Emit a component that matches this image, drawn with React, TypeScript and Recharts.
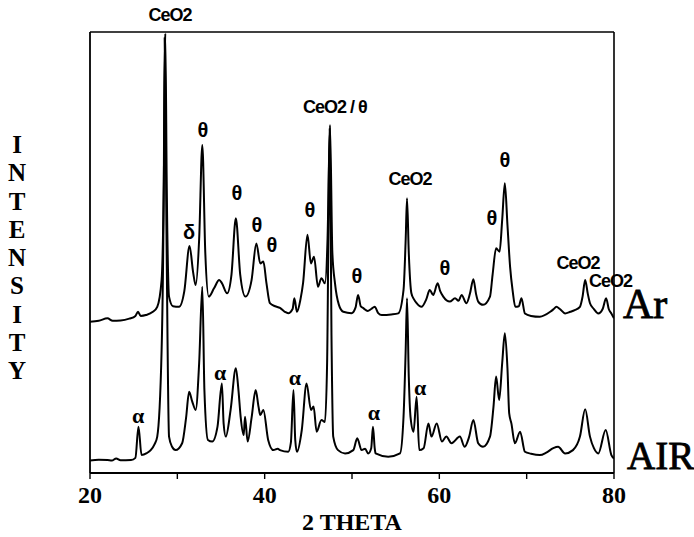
import { LineChart, Line, XAxis, YAxis, ReferenceLine, ReferenceDot } from 'recharts';

// 2-theta positions and intensities (arbitrary units, traces offset)
const arTheta = [
  20.0, 21.0, 22.0, 22.6, 23.5, 24.5, 25.2, 25.5, 25.8, 26.4, 27.2, 27.7, 28.2, 28.45, 28.62, 28.8,
  29.05, 29.5, 30.2, 30.8, 31.4, 31.8, 32.1, 32.5, 32.86, 33.2, 33.6, 34.2, 34.8, 35.1, 35.7, 36.2,
  36.7, 37.2, 37.8, 38.5, 39.05, 39.5, 39.85, 40.2, 40.6, 41.2, 41.75, 42.3, 42.7, 43.2, 43.4, 43.7,
  44.1, 44.4, 44.9, 45.3, 45.65, 46.1, 46.5, 46.9, 47.2, 47.48, 47.75, 48.05, 48.5, 49.0, 49.95, 50.4,
  50.7, 51.0, 51.3, 51.8, 52.2, 52.6, 53.0, 53.4, 54.5, 55.3, 55.9, 56.15, 56.3, 56.5, 56.8, 57.1,
  57.4, 57.95, 58.5, 58.9, 59.3, 59.8, 60.1, 60.45, 61.2, 61.8, 62.2, 62.55, 63.1, 63.5, 63.9, 64.2,
  64.45, 65.0, 65.8, 66.1, 66.5, 66.9, 67.2, 67.5, 67.8, 68.1, 68.4, 68.7, 69.1, 69.4, 69.8, 70.5,
  71.5, 72.7, 73.1, 73.4, 73.8, 74.4, 75.0, 75.5, 76.1, 76.4, 76.7, 77.0, 77.25, 77.7, 78.2, 78.7,
  79.1, 79.4, 79.7, 80.0,
];
const arIntensity = [
  5.49, 5.52, 5.61, 5.52, 5.53, 5.6, 5.7, 5.85, 5.7, 5.73, 5.85, 6.03, 7.0, 10.5, 15.95, 10.0,
  6.4, 6.05, 6.03, 6.6, 8.24, 7.3, 6.82, 8.5, 11.9, 8.0, 6.4, 6.7, 7.0, 6.89, 6.52, 7.2,
  9.24, 7.2, 6.4, 7.0, 8.33, 7.6, 7.67, 6.9, 6.16, 6.05, 5.99, 5.85, 5.8, 5.95, 6.34, 5.85,
  6.3, 6.9, 8.64, 7.6, 7.85, 6.76, 7.07, 6.88, 8.5, 12.63, 8.0, 6.89, 6.1, 5.85, 5.8, 6.0,
  6.46, 6.05, 5.98, 5.88, 5.95, 6.03, 5.8, 5.73, 5.75, 5.79, 6.64, 8.5, 9.97, 8.0, 6.52, 6.3,
  6.16, 6.03, 6.3, 6.64, 6.46, 6.88, 6.6, 6.4, 6.22, 6.34, 6.25, 6.46, 6.16, 6.5, 7.03, 6.5,
  6.22, 6.1, 6.4, 7.2, 8.15, 8.03, 9.2, 10.51, 9.0, 7.49, 6.6, 6.03, 6.05, 6.34, 5.79, 5.7,
  5.67, 5.85, 5.95, 6.03, 5.95, 5.79, 5.85, 5.91, 6.03, 6.4, 7.0, 6.5, 6.16, 5.95, 5.79, 5.95,
  6.34, 5.95, 5.79, 5.61,
];

const airTheta = [
  20.0, 21.0, 22.0, 22.5, 23.0, 23.5, 24.7, 25.2, 25.55, 25.9, 26.5, 26.95, 27.4, 27.7, 28.2, 28.45,
  28.55, 28.75, 29.05, 29.4, 29.8, 30.55, 31.0, 31.35, 31.7, 32.1, 32.5, 32.86, 33.1, 33.5, 34.0, 34.6,
  35.1, 35.3, 35.55, 36.1, 36.7, 37.0, 37.25, 37.6, 37.75, 38.05, 38.5, 38.97, 39.3, 39.5, 39.85, 40.4,
  41.0, 41.5, 41.75, 42.7, 43.0, 43.3, 43.5, 43.7, 44.25, 44.8, 45.3, 45.6, 45.95, 46.5, 46.9, 47.15,
  47.45, 47.65, 47.85, 48.4, 49.2, 50.15, 50.6, 51.1, 51.5, 51.85, 52.2, 52.4, 52.6, 52.7, 54.15, 55.5,
  55.9, 56.15, 56.3, 56.5, 56.7, 57.05, 57.4, 57.7, 58.2, 58.75, 59.1, 59.7, 60.3, 60.8, 61.4, 62.35,
  62.9, 63.4, 63.9, 64.45, 65.0, 65.8, 66.2, 66.5, 66.85, 67.2, 67.5, 67.8, 68.0, 68.25, 68.65, 69.25,
  69.8, 70.5, 71.5, 72.3, 73.05, 73.6, 74.4, 75.3, 76.1, 76.7, 77.25, 77.7, 78.2, 79.05, 79.7, 80.0,
];
const airIntensity = [
  0.45, 0.48, 0.47, 0.45, 0.53, 0.46, 0.47, 0.55, 1.68, 0.65, 0.72, 0.83, 1.05, 1.32, 4.46, 10.5,
  15.8, 9.0, 1.32, 0.95, 0.83, 1.08, 2.0, 2.95, 2.6, 2.29, 4.0, 6.76, 3.0, 1.2, 1.14, 1.68,
  3.25, 1.8, 1.32, 2.29, 3.8, 3.0, 2.04, 1.38, 2.04, 1.14, 2.0, 3.01, 2.4, 2.1, 2.29, 1.2,
  0.83, 0.88, 0.83, 0.77, 1.1, 3.01, 1.2, 0.77, 1.56, 3.25, 2.29, 2.41, 1.5, 1.92, 1.85, 4.0,
  12.5, 5.0, 1.32, 0.83, 0.71, 0.83, 1.26, 0.83, 0.88, 0.71, 0.9, 1.68, 0.9, 0.71, 0.59, 0.71,
  2.04, 4.5, 6.34, 3.5, 2.04, 1.5, 2.77, 0.83, 0.9, 1.8, 1.32, 1.8, 1.14, 1.32, 1.08, 1.32,
  0.95, 1.3, 1.92, 1.08, 0.95, 1.32, 2.4, 3.5, 2.65, 4.0, 5.07, 3.8, 2.16, 1.8, 1.08, 1.5,
  0.77, 0.7, 0.65, 0.75, 0.9, 0.95, 0.71, 0.83, 1.32, 2.31, 1.32, 0.9, 0.71, 1.56, 0.65, 0.53,
];

const xTicks = [20, 30, 40, 50, 60, 70, 80];
const yTicks = [0, 1, 2, 3, 4, 5, 6, 7, 8, 9, 10, 11, 12, 13, 14, 15, 16];

// phase labels written over the peaks (2-theta, intensity)
const peakText = [
  'CeO2', 'θ', 'δ', 'θ', 'θ', 'θ', 'θ', 'CeO2 / θ', 'θ', 'CeO2', 'θ', 'θ', 'θ', 'CeO2', 'CeO2',
  'α', 'α', 'α', 'α', 'α',
];
const peakTheta = [
  29.16, 32.94, 31.34, 36.83, 39.12, 40.84, 45.19, 48.05, 50.57, 56.64, 60.65, 66.03, 67.52, 75.88, 79.6,
  25.5, 34.89, 43.47, 52.52, 57.79,
];
const peakHeight = [
  16.62, 12.44, 8.74, 10.16, 9.0, 8.27, 9.54, 13.28, 7.15, 10.67, 7.44, 9.25, 11.36, 7.62, 6.98,
  2.1, 3.63, 3.45, 2.21, 3.12,
];

const traceNames = ['Ar', 'AIR'];
const traceTheta = [81.03, 81.49];
const traceHeight = [6.12, 0.65];

const arData = arTheta.map((t, i) => ({ t, v: arIntensity[i] }));
const airData = airTheta.map((t, i) => ({ t, v: airIntensity[i] }));

const serif = '"Liberation Serif", "Times New Roman", serif';
const sans = '"Liberation Sans", Arial, sans-serif';

function labelStyle(text: string) {
  if (text === 'α') return { fontFamily: serif, fontSize: 22, fontWeight: 700 };
  if (text === 'θ' || text === 'δ') return { fontFamily: sans, fontSize: 20, fontWeight: 700 };
  return { fontFamily: sans, fontSize: 18, fontWeight: 700, letterSpacing: -1 };
}

export default function App() {
  return (
    <div style={{ position: 'absolute', left: 0, top: 0, width: 694, height: 537, background: '#fff' }}>
      <LineChart
        width={694}
        height={537}
        margin={{ top: 32, right: 80, left: 80, bottom: 0 }}
      >
        <XAxis
          dataKey="t"
          type="number"
          domain={[20, 80]}
          ticks={xTicks}
          allowDataOverflow
          tickFormatter={(v) => (v % 20 === 0 ? String(v) : '')}
          tickSize={6}
          tickMargin={7}
          height={64}
          axisLine={{ stroke: '#000', strokeWidth: 1.8 }}
          tickLine={{ stroke: '#000', strokeWidth: 1.4 }}
          tick={{ fill: '#000', fontSize: 24, fontWeight: 700, fontFamily: serif }}
          label={{
            value: '2 THETA',
            position: 'insideBottom',
            offset: 7,
            fill: '#000',
            fontSize: 24,
            fontWeight: 700,
            fontFamily: serif,
          }}
        />
        <YAxis
          type="number"
          domain={[0, 16]}
          ticks={yTicks}
          width={10}
          tick={false}
          tickSize={9}
          axisLine={{ stroke: '#000', strokeWidth: 1.8 }}
          tickLine={{ stroke: '#000', strokeWidth: 1.4 }}
        />
        <ReferenceLine y={16} stroke="#000" strokeWidth={1.6} />
        <ReferenceLine x={80} stroke="#000" strokeWidth={1.6} />
        <Line
          data={arData}
          dataKey="v"
          type="monotone"
          stroke="#000"
          strokeWidth={2}
          dot={false}
          isAnimationActive={false}
        />
        <Line
          data={airData}
          dataKey="v"
          type="monotone"
          stroke="#000"
          strokeWidth={2}
          dot={false}
          isAnimationActive={false}
        />
        {peakText.map((txt, i) => (
          <ReferenceDot
            key={'p' + i}
            x={peakTheta[i]}
            y={peakHeight[i]}
            ifOverflow="visible"
            shape={(p: any) => (
              <text
                x={p.cx}
                y={p.cy}
                textAnchor="middle"
                dominantBaseline="central"
                fill="#000"
                {...labelStyle(txt)}
              >
                {txt}
              </text>
            )}
          />
        ))}
        {traceNames.map((txt, i) => (
          <ReferenceDot
            key={'n' + i}
            x={traceTheta[i]}
            y={traceHeight[i]}
            ifOverflow="visible"
            shape={(p: any) => (
              <text
                x={p.cx}
                y={p.cy}
                textAnchor="start"
                dominantBaseline="central"
                fill="#000"
                stroke="#000"
                strokeWidth={0.8}
                fontFamily={serif}
                fontSize={txt === 'Ar' ? 42 : 39}
              >
                {txt}
              </text>
            )}
          />
        ))}
      </LineChart>
      <div
        style={{
          position: 'absolute',
          left: 2,
          top: 131,
          width: 30,
          textAlign: 'center',
          fontFamily: serif,
          fontWeight: 700,
          fontSize: 25,
          lineHeight: '28.25px',
          color: '#000',
        }}
      >
        {'INTENSITY'.split('').map((c, i) => (
          <div key={i}>{c}</div>
        ))}
      </div>
    </div>
  );
}
